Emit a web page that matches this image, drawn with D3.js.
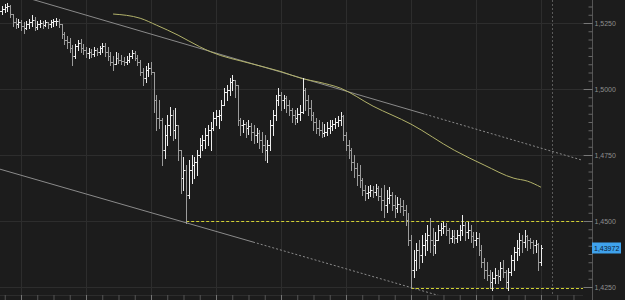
<!DOCTYPE html>
<html>
<head>
<meta charset="utf-8">
<script src="https://cdnjs.cloudflare.com/ajax/libs/d3/7.8.5/d3.min.js"></script>
<style>
  html, body { margin: 0; padding: 0; background: #1c1c1c; }
  svg { display: block; }
</style>
</head>
<body>
<div id="chart"></div>
<script>
const width = 625;
const height = 300;
const plotRight = 583;
const plotBottom = 295;
const axisX = 592;

// [open, high, low, close] per bar
const ohlc = [
  [1.5292,1.5307,1.5280,1.5295],[1.5295,1.5314,1.5284,1.5303],[1.5303,1.5322,1.5292,1.5310],[1.5310,1.5326,1.5295,1.5314],
  [1.5314,1.5318,1.5273,1.5284],[1.5284,1.5284,1.5238,1.5254],[1.5254,1.5269,1.5231,1.5246],[1.5246,1.5265,1.5235,1.5254],
  [1.5254,1.5261,1.5223,1.5238],[1.5238,1.5254,1.5212,1.5231],[1.5231,1.5257,1.5227,1.5246],[1.5246,1.5265,1.5231,1.5254],
  [1.5254,1.5280,1.5238,1.5261],[1.5261,1.5273,1.5223,1.5235],[1.5235,1.5257,1.5227,1.5246],[1.5246,1.5261,1.5235,1.5250],
  [1.5250,1.5257,1.5231,1.5242],[1.5242,1.5261,1.5238,1.5254],[1.5254,1.5254,1.5231,1.5246],[1.5246,1.5261,1.5235,1.5254],
  [1.5254,1.5265,1.5238,1.5257],[1.5257,1.5269,1.5242,1.5257],[1.5257,1.5265,1.5235,1.5246],[1.5246,1.5246,1.5193,1.5208],
  [1.5208,1.5216,1.5170,1.5185],[1.5185,1.5201,1.5155,1.5178],[1.5178,1.5193,1.5140,1.5155],[1.5155,1.5166,1.5091,1.5125],
  [1.5125,1.5170,1.5117,1.5163],[1.5163,1.5185,1.5147,1.5174],[1.5174,1.5189,1.5140,1.5155],[1.5155,1.5170,1.5132,1.5147],
  [1.5147,1.5159,1.5121,1.5136],[1.5136,1.5155,1.5117,1.5140],[1.5140,1.5151,1.5121,1.5132],[1.5132,1.5159,1.5125,1.5147],
  [1.5147,1.5155,1.5129,1.5140],[1.5140,1.5163,1.5132,1.5155],[1.5155,1.5174,1.5140,1.5163],[1.5163,1.5174,1.5125,1.5140],
  [1.5140,1.5159,1.5110,1.5125],[1.5125,1.5140,1.5091,1.5102],[1.5102,1.5125,1.5072,1.5094],[1.5094,1.5140,1.5094,1.5117],
  [1.5117,1.5136,1.5098,1.5110],[1.5110,1.5129,1.5094,1.5106],[1.5106,1.5121,1.5091,1.5102],[1.5102,1.5125,1.5094,1.5110],
  [1.5110,1.5136,1.5102,1.5125],[1.5125,1.5147,1.5117,1.5136],[1.5136,1.5144,1.5110,1.5117],[1.5117,1.5129,1.5091,1.5102],
  [1.5102,1.5110,1.5053,1.5064],[1.5064,1.5079,1.5015,1.5041],[1.5041,1.5087,1.5026,1.5072],[1.5072,1.5098,1.5049,1.5079],
  [1.5079,1.5102,1.5057,1.5064],[1.5064,1.5064,1.4913,1.4958],[1.4958,1.4977,1.4844,1.4890],[1.4890,1.4958,1.4852,1.4882],
  [1.4882,1.4890,1.4712,1.4768],[1.4768,1.4863,1.4738,1.4825],[1.4825,1.4901,1.4787,1.4863],[1.4863,1.4931,1.4825,1.4901],
  [1.4901,1.4920,1.4806,1.4844],[1.4844,1.4928,1.4814,1.4863],[1.4863,1.4863,1.4731,1.4768],[1.4768,1.4768,1.4606,1.4662],
  [1.4662,1.4742,1.4617,1.4693],[1.4693,1.4712,1.4492,1.4598],[1.4598,1.4731,1.4587,1.4693],[1.4693,1.4750,1.4643,1.4712],
  [1.4712,1.4742,1.4662,1.4723],[1.4723,1.4768,1.4674,1.4750],[1.4750,1.4814,1.4742,1.4787],[1.4787,1.4825,1.4768,1.4806],
  [1.4806,1.4852,1.4776,1.4825],[1.4825,1.4863,1.4787,1.4844],[1.4844,1.4875,1.4768,1.4852],[1.4852,1.4913,1.4844,1.4890],
  [1.4890,1.4920,1.4863,1.4897],[1.4897,1.4920,1.4852,1.4901],[1.4901,1.4958,1.4882,1.4939],[1.4939,1.5003,1.4939,1.4988],
  [1.4988,1.5015,1.4958,1.4996],[1.4996,1.5041,1.4977,1.5026],[1.5026,1.5053,1.4996,1.5034],[1.5034,1.5034,1.4969,1.5015],
  [1.5015,1.5015,1.4863,1.4882],[1.4882,1.4890,1.4825,1.4863],[1.4863,1.4882,1.4837,1.4867],[1.4867,1.4875,1.4818,1.4852],
  [1.4852,1.4882,1.4829,1.4859],[1.4859,1.4871,1.4806,1.4837],[1.4837,1.4863,1.4795,1.4825],[1.4825,1.4852,1.4799,1.4833],
  [1.4833,1.4844,1.4776,1.4806],[1.4806,1.4837,1.4761,1.4787],[1.4787,1.4825,1.4731,1.4768],[1.4768,1.4806,1.4723,1.4787],
  [1.4787,1.4882,1.4768,1.4863],[1.4863,1.4920,1.4825,1.4901],[1.4901,1.4977,1.4882,1.4958],[1.4958,1.5003,1.4939,1.4977],
  [1.4977,1.4988,1.4920,1.4958],[1.4958,1.4977,1.4928,1.4966],[1.4966,1.4973,1.4913,1.4939],[1.4939,1.4958,1.4901,1.4920],
  [1.4920,1.4928,1.4875,1.4901],[1.4901,1.4920,1.4867,1.4890],[1.4890,1.4928,1.4875,1.4905],[1.4905,1.4939,1.4882,1.4913],
  [1.4913,1.5041,1.4909,1.4996],[1.4996,1.5003,1.4920,1.4958],[1.4958,1.4977,1.4901,1.4928],[1.4928,1.4958,1.4882,1.4901],
  [1.4901,1.4913,1.4844,1.4875],[1.4875,1.4890,1.4833,1.4852],[1.4852,1.4882,1.4825,1.4844],[1.4844,1.4875,1.4818,1.4833],
  [1.4833,1.4867,1.4822,1.4837],[1.4837,1.4875,1.4825,1.4852],[1.4852,1.4882,1.4833,1.4859],[1.4859,1.4882,1.4844,1.4867],
  [1.4867,1.4890,1.4852,1.4875],[1.4875,1.4897,1.4859,1.4882],[1.4882,1.4913,1.4863,1.4897],[1.4897,1.4901,1.4806,1.4825],
  [1.4825,1.4837,1.4768,1.4787],[1.4787,1.4806,1.4738,1.4768],[1.4768,1.4776,1.4693,1.4723],[1.4723,1.4750,1.4666,1.4700],
  [1.4700,1.4719,1.4636,1.4674],[1.4674,1.4712,1.4628,1.4655],[1.4655,1.4662,1.4598,1.4617],[1.4617,1.4636,1.4579,1.4606],
  [1.4606,1.4632,1.4587,1.4609],[1.4609,1.4636,1.4594,1.4617],[1.4617,1.4632,1.4590,1.4609],[1.4609,1.4640,1.4598,1.4624],
  [1.4624,1.4632,1.4579,1.4594],[1.4594,1.4624,1.4541,1.4579],[1.4579,1.4636,1.4515,1.4560],[1.4560,1.4617,1.4534,1.4587],
  [1.4587,1.4628,1.4568,1.4598],[1.4598,1.4609,1.4541,1.4560],[1.4560,1.4598,1.4515,1.4549],[1.4549,1.4590,1.4534,1.4564],
  [1.4564,1.4587,1.4534,1.4556],[1.4556,1.4579,1.4522,1.4541],[1.4541,1.4560,1.4484,1.4503],[1.4503,1.4530,1.4408,1.4427],
  [1.4427,1.4446,1.4245,1.4314],[1.4314,1.4389,1.4287,1.4352],[1.4352,1.4416,1.4314,1.4389],[1.4389,1.4427,1.4321,1.4371],
  [1.4371,1.4446,1.4344,1.4408],[1.4408,1.4454,1.4371,1.4427],[1.4427,1.4484,1.4389,1.4446],[1.4446,1.4511,1.4382,1.4427],
  [1.4427,1.4473,1.4371,1.4408],[1.4408,1.4458,1.4378,1.4427],[1.4427,1.4484,1.4427,1.4465],[1.4465,1.4492,1.4446,1.4473],
  [1.4473,1.4496,1.4454,1.4480],[1.4480,1.4492,1.4446,1.4465],[1.4465,1.4473,1.4416,1.4435],[1.4435,1.4465,1.4420,1.4443],
  [1.4443,1.4465,1.4416,1.4435],[1.4435,1.4465,1.4420,1.4446],[1.4446,1.4484,1.4427,1.4465],[1.4465,1.4522,1.4446,1.4484],
  [1.4484,1.4496,1.4427,1.4458],[1.4458,1.4496,1.4435,1.4465],[1.4465,1.4484,1.4420,1.4443],[1.4443,1.4458,1.4401,1.4427],
  [1.4427,1.4458,1.4408,1.4435],[1.4435,1.4454,1.4371,1.4389],[1.4389,1.4408,1.4325,1.4344],[1.4344,1.4359,1.4283,1.4314],
  [1.4314,1.4344,1.4276,1.4295],[1.4295,1.4314,1.4245,1.4268],[1.4268,1.4306,1.4238,1.4283],[1.4283,1.4321,1.4264,1.4295],
  [1.4295,1.4314,1.4264,1.4291],[1.4291,1.4344,1.4276,1.4321],[1.4321,1.4352,1.4287,1.4306],[1.4306,1.4314,1.4245,1.4268],
  [1.4268,1.4321,1.4238,1.4306],[1.4306,1.4371,1.4295,1.4352],[1.4352,1.4401,1.4314,1.4382],[1.4382,1.4427,1.4352,1.4397],
  [1.4397,1.4454,1.4371,1.4427],[1.4427,1.4446,1.4382,1.4420],[1.4420,1.4465,1.4401,1.4443],[1.4443,1.4446,1.4389,1.4427],
  [1.4427,1.4435,1.4397,1.4420],[1.4420,1.4427,1.4378,1.4408],[1.4408,1.4427,1.4382,1.4412],[1.4412,1.4416,1.4314,1.4344],
  [1.4344,1.4408,1.4333,1.43972]
];

// moving average, read as [bar, price]
const maPoints = [
  [42,1.5284],[52,1.5268],[58,1.5242],[66,1.5204],[74,1.5160],[78,1.5141],[93,1.5096],
  [104,1.5066],[112,1.5039],[118,1.5026],[126,1.5003],[138,1.4935],[152,1.4867],
  [168,1.4768],[179,1.4712],[190,1.4662],[195,1.4651],[200,1.4628]
];

// channel lines [bar, price]; solid up to a bar, dotted after
const upperChannel = [[0,1.5376],[215,1.4731]];
const upperSolidTo = 157;
const lowerChannel = [[0,1.4697],[215,1.4062]];
const lowerSolidTo = 94;

// horizontal levels and the bar they start from
const levelPrices = [1.4500, 1.4245];
const levelStart = [69, 152];

const cursorBar = 204;
const lastPrice = 1.43972;
const lastLabel = "1,43972";

const yTicks = [1.425, 1.45, 1.475, 1.5, 1.525];
const yLabels = ["1,4250", "1,4500", "1,4750", "1,5000", "1,5250"];
const yMinorStep = 0.003125;

const svg = d3.select("#chart")
    .append("svg")
    .attr("width", width)
    .attr("height", height);

svg.append("rect")
    .attr("width", width)
    .attr("height", height)
    .attr("fill", "#1c1c1c");

const x = d3.scaleLinear().domain([0, 215]).range([-0.67, 581.6]);
const y = d3.scaleLinear().domain([1.425, 1.525]).range([287, 23]);
const px = v => Math.round(v) + 0.5;

const defs = svg.append("defs");
function clipRect(id, x0, x1) {
    defs.append("clipPath").attr("id", id)
        .append("rect")
        .attr("x", x0).attr("y", 0)
        .attr("width", x1 - x0).attr("height", plotBottom);
}
clipRect("plot", 0, plotRight);
clipRect("upSolid", 0, x(upperSolidTo));
clipRect("upDot", x(upperSolidTo), plotRight);
clipRect("loSolid", 0, x(lowerSolidTo));
clipRect("loDot", x(lowerSolidTo), plotRight);

// grid
const grid = svg.append("g").attr("stroke", "#2d2d2d").attr("stroke-width", 1);
grid.selectAll(".gy")
    .data(yTicks)
    .enter()
    .append("line")
    .attr("x1", 0).attr("x2", plotRight)
    .attr("y1", d => px(y(d))).attr("y2", d => px(y(d)));
grid.selectAll(".gx")
    .data(d3.range(8, 215, 24))
    .enter()
    .append("line")
    .attr("x1", d => px(x(d))).attr("x2", d => px(x(d)))
    .attr("y1", 0).attr("y2", plotBottom);

svg.append("line")
    .attr("x1", 0).attr("x2", plotRight)
    .attr("y1", plotBottom + 0.5).attr("y2", plotBottom + 0.5)
    .attr("stroke", "#2d2d2d");

const plot = svg.append("g").attr("clip-path", "url(#plot)");

// cursor line
plot.append("line")
    .attr("x1", px(x(cursorBar))).attr("x2", px(x(cursorBar)))
    .attr("y1", 0).attr("y2", plotBottom)
    .attr("stroke", "#5a5a5a")
    .attr("stroke-dasharray", "2,2");

// channel lines
const line = d3.line().x(d => x(d[0])).y(d => y(d[1]));
[[upperChannel, "upSolid", "upDot"], [lowerChannel, "loSolid", "loDot"]].forEach(([pts, s, dt]) => {
    plot.append("g").attr("clip-path", `url(#${s})`)
        .append("path")
        .attr("d", line(pts))
        .attr("fill", "none")
        .attr("stroke", "#8a8a8a");
    plot.append("g").attr("clip-path", `url(#${dt})`)
        .append("path")
        .attr("d", line(pts))
        .attr("fill", "none")
        .attr("stroke", "#8a8a8a")
        .attr("stroke-dasharray", "2,2");
});

// levels
plot.selectAll(".level")
    .data(levelPrices)
    .enter()
    .append("line")
    .attr("x1", (d, i) => x(levelStart[i]))
    .attr("x2", plotRight)
    .attr("y1", d => px(y(d))).attr("y2", d => px(y(d)))
    .attr("stroke", "#d2d232")
    .attr("stroke-dasharray", "3,2");

// moving average
plot.append("path")
    .attr("d", d3.line().x(d => x(d[0])).y(d => y(d[1])).curve(d3.curveMonotoneX)(maPoints))
    .attr("fill", "none")
    .attr("stroke", "#b2b26a")
    .attr("stroke-width", 1);

// OHLC bars
plot.selectAll(".bar")
    .data(ohlc)
    .enter()
    .append("path")
    .attr("d", (d, i) => {
        const c = Math.round(x(i));
        const yo = px(y(d[0])), yc = px(y(d[3]));
        return `M${c + 0.5},${Math.round(y(d[1]))}V${Math.round(y(d[2])) + 1}` +
            `M${c - 1},${yo}H${c}M${c + 1},${yc}H${c + 2}`;
    })
    .attr("fill", "none")
    .attr("stroke", d => d[3] >= d[0] ? "#ececec" : "#9c9c9c")
    .attr("stroke-width", 1);

// right axis
svg.append("line")
    .attr("x1", axisX + 0.5).attr("x2", axisX + 0.5)
    .attr("y1", 0).attr("y2", height)
    .attr("stroke", "#555");

const minor = d3.range(1.425 - 4 * yMinorStep, 1.535, yMinorStep)
    .filter(v => y(v) > 0 && y(v) < plotBottom);

svg.append("g")
    .attr("transform", `translate(${axisX + 0.5},0)`)
    .call(d3.axisRight(y).tickValues(minor).tickSize(-4).tickFormat(""))
    .call(g => g.select(".domain").remove())
    .call(g => g.selectAll("line").attr("stroke", "#666"));

svg.append("g")
    .attr("transform", `translate(${axisX + 0.5},0)`)
    .call(d3.axisRight(y).tickValues(yTicks).tickSize(-9).tickPadding(2)
        .tickFormat((d, i) => yLabels[i]))
    .call(g => g.select(".domain").remove())
    .call(g => g.selectAll("line").attr("stroke", "#777"))
    .call(g => g.selectAll("text")
        .attr("fill", "#8e8e8e")
        .attr("font-family", "'Liberation Sans', Arial, sans-serif")
        .attr("font-size", "7px"));

// bottom ticks
svg.append("g")
    .attr("transform", `translate(0,${plotBottom})`)
    .call(d3.axisBottom(x).tickValues(d3.range(2, 215, 6)).tickSize(5).tickFormat(""))
    .call(g => g.select(".domain").remove())
    .call(g => g.selectAll(".tick line")
        .attr("stroke", d => (d - 8) % 24 === 0 ? "#777" : "#555"));

// last price tag
const tag = svg.append("g").attr("transform", `translate(${axisX},${Math.round(y(lastPrice))})`);
tag.append("rect")
    .attr("x", 0).attr("y", -5.5)
    .attr("width", 29).attr("height", 11)
    .attr("fill", "#3fa2ec");
tag.append("text")
    .attr("x", 2).attr("y", 3)
    .attr("fill", "#0b1a33")
    .attr("font-family", "'Liberation Sans', Arial, sans-serif")
    .attr("font-size", "7px")
    .text(lastLabel);
</script>
</body>
</html>
